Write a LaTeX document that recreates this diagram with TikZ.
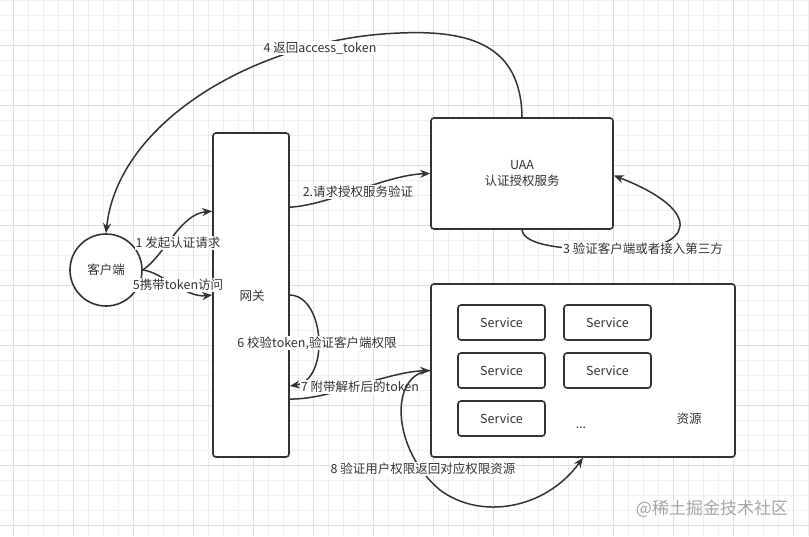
\documentclass[tikz,border=0pt]{standalone}
\usepackage{fontspec}
\setmainfont{Noto Sans CJK SC}
\usetikzlibrary{arrows.meta,calc}
\definecolor{ink}{HTML}{333333}
\definecolor{gridminor}{HTML}{EFEFEF}
\definecolor{gridmajor}{HTML}{DEDEDE}
\tikzset{
  box/.style={draw=ink, line width=1.6pt, fill=white, rounded corners=3pt, inner sep=0pt},
  svc/.style={box, minimum width=87pt, minimum height=35pt},
  conn/.style={draw=ink, line width=1.5pt, -{Stealth[length=10pt,width=8pt]}},
  lbl/.style={fill=white, inner sep=1pt},
  txt/.style={inner sep=0pt}
}
\begin{document}
\begin{tikzpicture}[x=1pt,y=-1pt, every node/.style={font=\fontsize{12.5}{15.5}\selectfont, text=ink}]
\useasboundingbox (0,0) rectangle (809,536);
\fill[white] (0,0) rectangle (809,536);
% grid
\foreach \x in {13.3,28.3,...,809} \draw[gridminor, line width=0.8pt] (\x,0) -- (\x,536);
\foreach \y in {0.7,15.7,...,536} \draw[gridminor, line width=0.8pt] (0,\y) -- (809,\y);
\foreach \x in {13.3,73.3,...,809} \draw[gridmajor, line width=0.8pt] (\x,0) -- (\x,536);
\foreach \y in {45.7,105.7,...,536} \draw[gridmajor, line width=0.8pt] (0,\y) -- (809,\y);

% nodes
\node[box, circle, minimum size=72pt] (client) at (106,270) {客户端};
\node[box, minimum width=76pt, minimum height=324pt] (gw) at (251,295) {};
\node[txt] (gwlbl) at (252,296) {网关};
\node[box, minimum width=182pt, minimum height=111pt, align=center] (uaa) at (522,173.5) {UAA\\认证授权服务};
\node[box, minimum width=304pt, minimum height=173pt] (res) at (583,370.5) {};
\node[svc] (s1) at (501.5,322.5) {Service};
\node[svc] (s2) at (607.5,322.5) {Service};
\node[svc] (s3) at (501.5,370.5) {Service};
\node[svc] (s4) at (607.5,370.5) {Service};
\node[svc] (s5) at (501.5,418.5) {Service};
\node[txt] (dots) at (581,428) {...};
\node[txt] (reslbl) at (689,419) {资源};

% connectors
\draw[conn] (client.east) .. controls (165,255) and (180,214) .. ($(gw.north west)+(0,79)$)
  node[lbl] at (178,243) {1 发起认证请求};
\draw[conn] (client.east) .. controls (162,272) and (185,298) .. (gw.west)
  node[lbl] at (178,285) {5携带token访问};
\draw[conn] ($(gw.north east)+(0,75)$) .. controls (330,205) and (385,175) .. (uaa.west)
  node[lbl] at (358,192) {2.请求授权服务验证};
\draw[conn] (uaa.south) .. controls (524,245) and (560,250) .. (620,250)
  .. controls (692,250) and (708,212) .. ($(uaa.east)+(0,2)$)
  node[lbl] at (643,249) {3 验证客户端或者接入第三方};
\draw[conn] (uaa.north) .. controls (521,45) and (470,30) .. (400,33)
  .. controls (260,38) and (118,120) .. (client.north)
  node[lbl] at (320,48) {4 返回access\_token};
\draw[conn] (gw.east) .. controls (325,296) and (330,380) .. ($(gw.east)+(0,91)$)
  node[lbl] at (317,343) {6 校验token,验证客户端权限};
\draw[conn] ($(gw.east)+(0,104)$) .. controls (330,400) and (385,372) .. (res.west)
  node[lbl] at (360,387) {7 附带解析后的token};
\draw[conn] (res.west) .. controls (388,374) and (392,450) .. (440,490)
  .. controls (480,520) and (545,510) .. (res.south)
  node[lbl] at (423,469) {8 验证用户权限返回对应权限资源};

% watermark
\node[txt, text=black!35, font=\fontsize{17}{20}\selectfont] (wm) at (712,509) {@稀土掘金技术社区};
\end{tikzpicture}
\end{document}
